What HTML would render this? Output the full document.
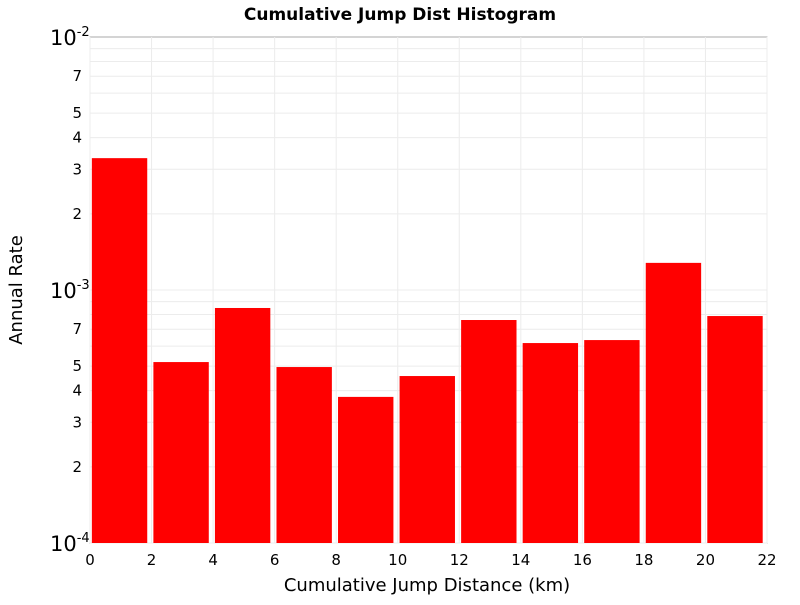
<!DOCTYPE html>
<html><head><meta charset="utf-8"><style>
body{margin:0;background:#fff;font-family:"Liberation Sans","DejaVu Sans",sans-serif}
</style></head><body>
<svg id="chart" width="800" height="600" xmlns="http://www.w3.org/2000/svg">
<text x="400" y="20" text-anchor="middle" font-size="17" font-weight="bold" font-family="DejaVu Sans, sans-serif">Cumulative Jump Dist Histogram</text>
<rect x="90" y="37" width="677" height="506" fill="#fff" stroke="#aaa"/>
<g id="grid"></g><g id="bars"></g><g id="axes"></g>
<text x="427" y="591" text-anchor="middle" font-size="18" font-family="DejaVu Sans, sans-serif">Cumulative Jump Distance (km)</text>
<text transform="translate(22,290) rotate(-90)" text-anchor="middle" font-size="18" font-family="DejaVu Sans, sans-serif">Annual Rate</text>
</svg>
<script>
const binStarts=[0,2,4,6,8,10,12,14,16,18,20];
const rates=[3.32e-3,5.19e-4,8.49e-4,4.96e-4,3.78e-4,4.57e-4,7.61e-4,6.17e-4,6.34e-4,1.28e-3,7.89e-4];
const xTicks=[0,2,4,6,8,10,12,14,16,18,20,22];
const minorLabels=[2,3,4,5,7];
const NS="http://www.w3.org/2000/svg";
const X0=90,X1=767,Y0=543,Y1=37;
const xs=v=>X0+(v-0)/22*(X1-X0);
const ys=v=>Y0-(Math.log10(v)+4)/2*(Y0-Y1);
function mk(t,a,p){const e=document.createElementNS(NS,t);for(const k in a)e.setAttribute(k,a[k]);p.appendChild(e);return e;}
const grid=document.getElementById('grid'),bars=document.getElementById('bars'),axes=document.getElementById('axes');
xTicks.forEach(t=>{const l=mk('line',{x1:xs(t),x2:xs(t),y1:Y1,y2:Y0,stroke:'#ececec'},grid);

const tx=mk('text',{x:xs(t),y:Y0+22,'text-anchor':'middle','font-size':15,'font-family':'DejaVu Sans, sans-serif'},axes);tx.textContent=t;
});
[-4,-3].forEach(d=>{for(let m=1;m<10;m++){const v=m*Math.pow(10,d);const y=ys(v);
const l=mk('line',{x1:X0,x2:X1,y1:y,y2:y,stroke:'#ececec'},grid);

if(minorLabels.includes(m)){const tx=mk('text',{x:82,y:y+5,'text-anchor':'end','font-size':15,'font-family':'DejaVu Sans, sans-serif'},axes);tx.textContent=m;
}}});
[-4,-3,-2].forEach(d=>{const y=ys(Math.pow(10,d));const tx=mk('text',{x:50,y:y+8,'font-size':21,'font-family':'DejaVu Sans, sans-serif'},axes);
tx.innerHTML='10<tspan dy="-9" font-size="13">'+d+'</tspan>';
});
binStarts.forEach((s,i)=>{const xa=xs(s+0.06),xb=xs(s+1.86),y=ys(rates[i]);
const r=mk('rect',{x:xa,y:y,width:xb-xa,height:Y0-y,fill:'#ff0000'},bars);
});
</script>
</body></html>
